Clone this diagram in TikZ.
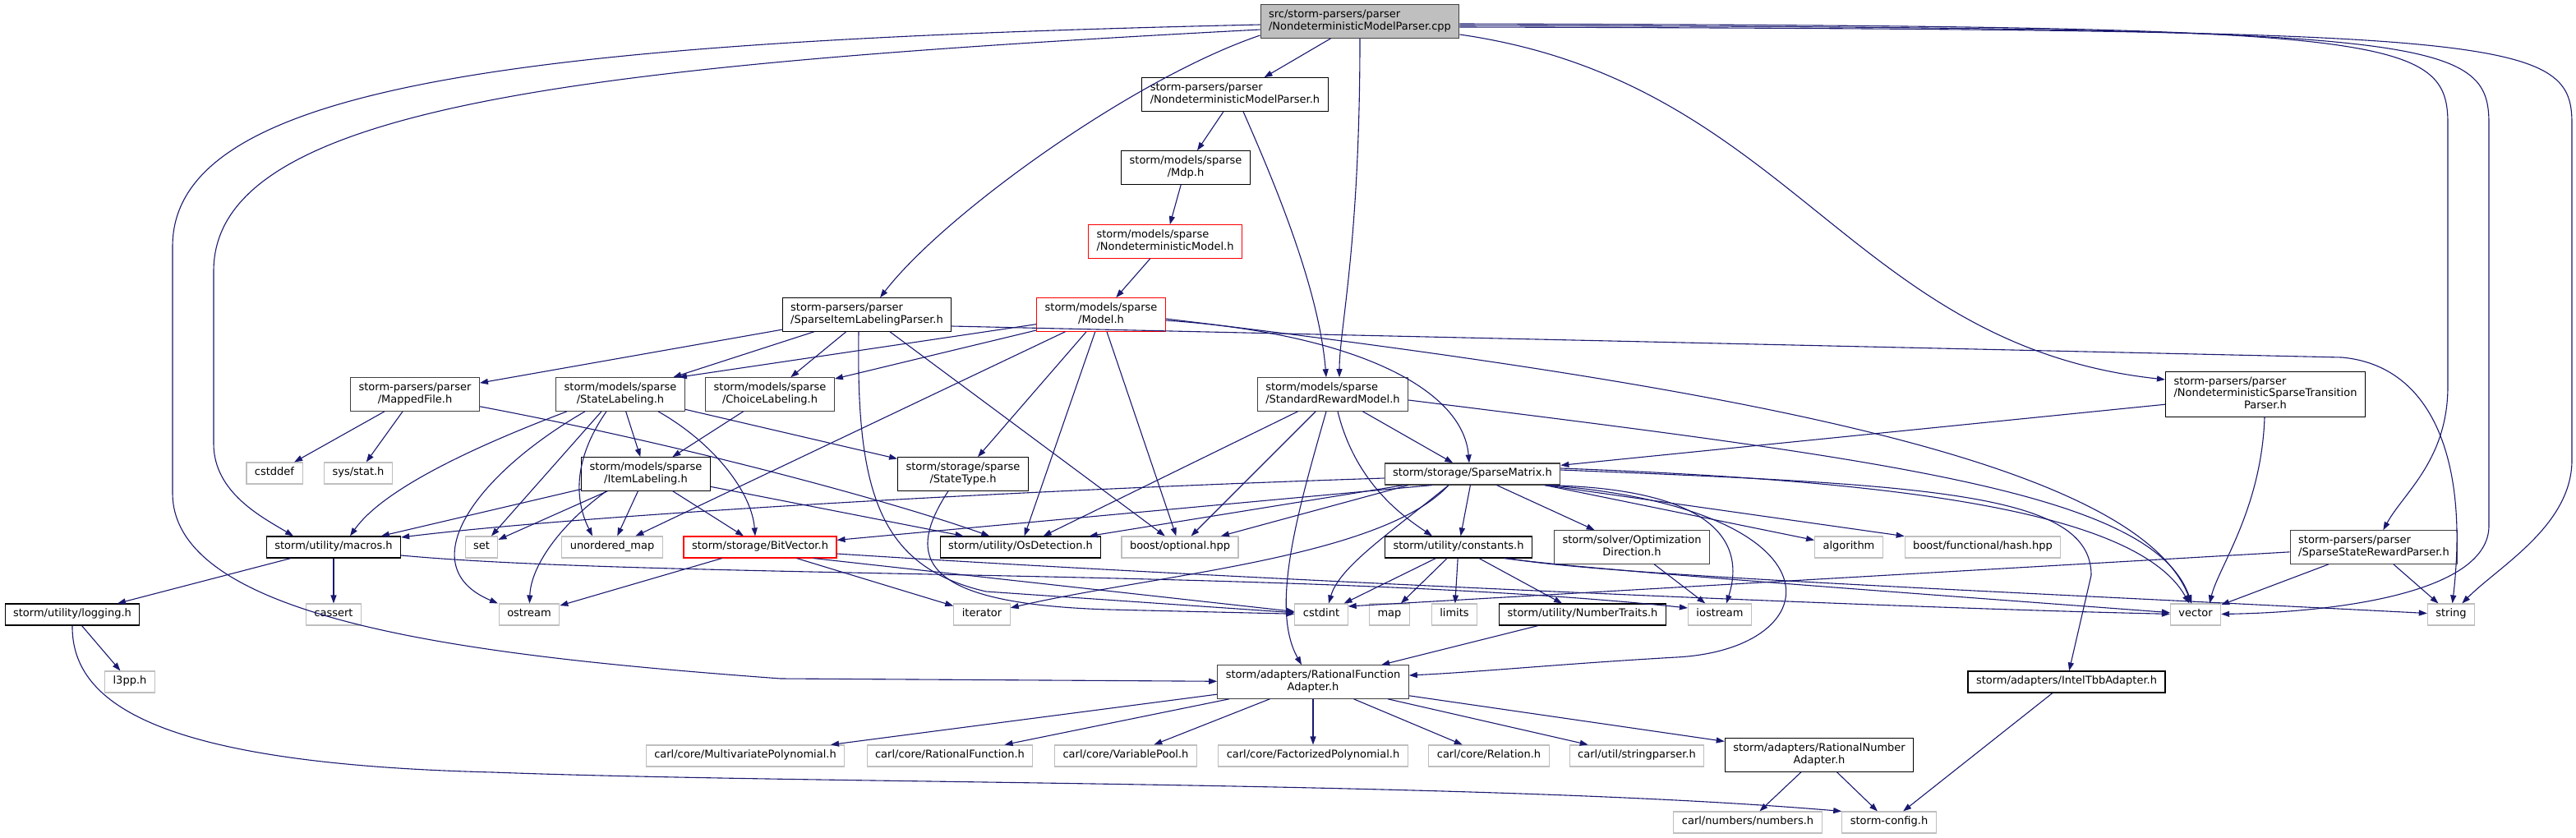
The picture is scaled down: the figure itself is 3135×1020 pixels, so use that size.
\documentclass[tikz,border=0pt]{standalone}
\usepackage{fontspec}
\setmainfont{DejaVu Sans}
\usepackage{tikz}
\usetikzlibrary{arrows.meta}
\usepackage{xcolor}
\definecolor{edgeblue}{HTML}{191970}
\definecolor{rootgray}{HTML}{BFBFBF}
\definecolor{extgray}{HTML}{BFBFBF}
\definecolor{boxgray}{HTML}{404040}
\definecolor{truncred}{HTML}{FF0000}
\newcommand{\boxtext}[1]{\begin{tabular}{@{}l@{}}#1\end{tabular}}
\newcommand{\lastline}[1]{\multicolumn{1}{@{}c@{}}{#1}}

\begin{document}
\begin{tikzpicture}[x=1pt, y=-1pt,
  every node/.style={rectangle, draw, fill=white, line width=1.1pt, inner xsep=10pt, inner ysep=5.75pt, font=\fontsize{13}{14.5}\selectfont},
  hdr/.style={draw=black},
  hdrg/.style={draw=boxgray},
  trunc/.style={draw=truncred},
  srcfile/.style={draw=boxgray, fill=rootgray},
  sysinc/.style={draw=extgray},
  dep/.style={draw=edgeblue, line width=1.1pt, -{Triangle[length=10pt,width=7pt]}}
]
\useasboundingbox (0,0) rectangle (3135,1020);

% row 0
\node[srcfile] (root) at (1655,26) {\boxtext{src/storm-parsers/parser\\\lastline{/NondeterministicModelParser.cpp}}};

% row 1
\node[hdr] (nmph) at (1503,115) {\boxtext{storm-parsers/parser\\\lastline{/NondeterministicModelParser.h}}};

% row 2
\node[hdr] (mdp) at (1443,204) {\boxtext{storm/models/sparse\\\lastline{/Mdp.h}}};

% row 3
\node[trunc] (ndm) at (1418,294) {\boxtext{storm/models/sparse\\\lastline{/NondeterministicModel.h}}};

% row 4
\node[hdr] (silp) at (1055,383) {\boxtext{storm-parsers/parser\\\lastline{/SparseItemLabelingParser.h}}};
\node[trunc] (model) at (1340,383) {\boxtext{storm/models/sparse\\\lastline{/Model.h}}};

% row 5
\node[hdrg] (mapped) at (505,480) {\boxtext{storm-parsers/parser\\\lastline{/MappedFile.h}}};
\node[hdrg] (statelab) at (755,480) {\boxtext{storm/models/sparse\\\lastline{/StateLabeling.h}}};
\node[hdrg] (choicelab) at (937,480) {\boxtext{storm/models/sparse\\\lastline{/ChoiceLabeling.h}}};
\node[hdrg] (srm) at (1622,480) {\boxtext{storm/models/sparse\\\lastline{/StandardRewardModel.h}}};
\node[hdr] (nstp) at (2757,480) {\boxtext{storm-parsers/parser\\/NondeterministicSparseTransition\\\lastline{Parser.h}}};

% row 6
\node[sysinc] (cstddef) at (334,576) {\boxtext{cstddef}};
\node[sysinc] (sysstat) at (436,576) {\boxtext{sys/stat.h}};
\node[hdr] (itemlab) at (786,577) {\boxtext{storm/models/sparse\\\lastline{/ItemLabeling.h}}};
\node[hdr] (statetype) at (1172,577) {\boxtext{storm/storage/sparse\\\lastline{/StateType.h}}};
\node[hdrg] (spmat) at (1792,577) {\boxtext{storm/storage/SparseMatrix.h}};

% row 7
\node[hdr] (macros) at (406,666) {\boxtext{storm/utility/macros.h}};
\node[sysinc] (set) at (586,666) {\boxtext{set}};
\node[sysinc] (unorderedmap) at (745,666) {\boxtext{unordered\_map}};
\node[trunc] (bitvec) at (925,666) {\boxtext{storm/storage/BitVector.h}};
\node[hdr] (osdet) at (1242,666) {\boxtext{storm/utility/OsDetection.h}};
\node[sysinc] (boostopt) at (1436,666) {\boxtext{boost/optional.hpp}};
\node[hdr] (constants) at (1775,666) {\boxtext{storm/utility/constants.h}};
\node[hdrg] (optdir) at (1986,666) {\boxtext{storm/solver/Optimization\\\lastline{Direction.h}}};
\node[sysinc] (algorithm) at (2250,666) {\boxtext{algorithm}};
\node[sysinc] (hash) at (2413,666) {\boxtext{boost/functional/hash.hpp}};
\node[hdrg] (ssrp) at (2889,666) {\boxtext{storm-parsers/parser\\\lastline{/SparseStateRewardParser.h}}};

% row 8
\node[hdr] (logging) at (88,748) {\boxtext{storm/utility/logging.h}};
\node[sysinc] (cassert) at (406,748) {\boxtext{cassert}};
\node[sysinc] (ostream) at (644,748) {\boxtext{ostream}};
\node[sysinc] (iterator) at (1195,748) {\boxtext{iterator}};
\node[sysinc] (cstdint) at (1608,748) {\boxtext{cstdint}};
\node[sysinc] (map) at (1691,748) {\boxtext{map}};
\node[sysinc] (limits) at (1770,748) {\boxtext{limits}};
\node[hdr] (numtraits) at (1926,748) {\boxtext{storm/utility/NumberTraits.h}};
\node[sysinc] (iostream) at (2093,748) {\boxtext{iostream}};
\node[sysinc] (vector) at (2672,748) {\boxtext{vector}};
\node[sysinc] (string) at (2983,748) {\boxtext{string}};

% row 9
\node[sysinc] (l3pp) at (158,830) {\boxtext{l3pp.h}};
\node[hdrg] (rfa) at (1598,830) {\boxtext{storm/adapters/RationalFunction\\\lastline{Adapter.h}}};
\node[hdr] (inteltbb) at (2515,830) {\boxtext{storm/adapters/IntelTbbAdapter.h}};

% row 10
\node[sysinc] (multipoly) at (907,920) {\boxtext{carl/core/MultivariatePolynomial.h}};
\node[sysinc] (ratfunc) at (1156,920) {\boxtext{carl/core/RationalFunction.h}};
\node[sysinc] (varpool) at (1370,920) {\boxtext{carl/core/VariablePool.h}};
\node[sysinc] (factpoly) at (1598,920) {\boxtext{carl/core/FactorizedPolynomial.h}};
\node[sysinc] (relation) at (1812,920) {\boxtext{carl/core/Relation.h}};
\node[sysinc] (strparser) at (1992,920) {\boxtext{carl/util/stringparser.h}};
\node[hdr] (ratnum) at (2214,919) {\boxtext{storm/adapters/RationalNumber\\\lastline{Adapter.h}}};

% row 11
\node[sysinc] (numbers) at (2127,1001) {\boxtext{carl/numbers/numbers.h}};
\node[sysinc] (stormconfig) at (2299,1001) {\boxtext{storm-config.h}};

% from root
\draw[dep] (root) -- (nmph);
\draw[dep] ([yshift=-17pt]root.west) .. controls (1380,95) and (1150,260) .. (silp);
\draw[dep] (root.south) .. controls (1655,300) and (1630,400) .. ([xshift=8pt]srm.north);
\draw[dep] ([yshift=-16pt]root.east) .. controls (2180,100) and (2250,420) .. ([yshift=18pt]nstp.west);
\draw[dep] ([yshift=-3pt]root.east) .. controls (2900,32) and (2979,40) .. (2979,150) -- (2979,470) .. controls (2979,560) and (2925,600) .. (ssrp);
\draw[dep] ([yshift=-5pt]root.east) .. controls (2950,34) and (3029,42) .. (3029,150) -- (3029,640) .. controls (3029,720) and (2850,745) .. (vector);
\draw[dep] ([yshift=-7pt]root.east) .. controls (3050,36) and (3130,44) .. (3130,150) -- (3130,560) .. controls (3130,640) and (3040,690) .. (string);
\draw[dep] ([yshift=-10pt]root.west) .. controls (700,80) and (260,130) .. (260,330) -- (260,540) .. controls (260,600) and (320,630) .. ([xshift=-49pt]macros.north);
\draw[dep] ([yshift=-4pt]root.west) .. controls (650,50) and (210,100) .. (210,300) -- (210,600) .. controls (210,760) and (600,800) .. (950,826) -- (rfa);

% from the parser headers
\draw[dep] (nmph) -- (mdp);
\draw[dep] ([xshift=10pt]nmph.south) .. controls (1550,220) and (1605,350) .. ([xshift=-8pt]srm.north);
\draw[dep] (mdp) -- (ndm);
\draw[dep] (ndm) -- (model);
\draw[dep] (silp) -- (mapped);
\draw[dep] (silp) -- (statelab);
\draw[dep] (silp) -- (choicelab);
\draw[dep] ([xshift=-10pt]silp.south) .. controls (1042,600) and (1070,690) .. (1200,720) -- (cstdint);
\draw[dep] (silp) -- (boostopt);
\draw[dep] ([yshift=-14pt]silp.east) -- (2850,435) .. controls (2960,445) and (3005,560) .. (string);
\draw[dep] (nstp) -- (spmat);
\draw[dep] (nstp) .. controls (2752,620) and (2700,690) .. ([xshift=17pt]vector.north);
\draw[dep] (ssrp) -- ([yshift=10pt]cstdint.east);
\draw[dep] (ssrp) -- (vector);
\draw[dep] (ssrp) -- (string);

% from Model.h
\draw[dep] (model) -- ([xshift=-8pt]statelab.north east);
\draw[dep] (model) -- (choicelab);
\draw[dep] (model) -- (unorderedmap);
\draw[dep] (model) -- (statetype);
\draw[dep] (model) -- (osdet);
\draw[dep] (model) -- (boostopt);
\draw[dep] ([yshift=-7pt]model.east) .. controls (1640,405) and (1780,470) .. ([xshift=-4pt]spmat.north);
\draw[dep] ([yshift=-5pt]model.east) .. controls (2100,470) and (2600,560) .. (vector);

% from StandardRewardModel.h
\draw[dep] (srm) -- (osdet);
\draw[dep] (srm) -- (boostopt);
\draw[dep] ([xshift=-8pt]srm.south) .. controls (1580,620) and (1545,740) .. ([xshift=-14pt]rfa.north);
\draw[dep] ([xshift=6pt]srm.south) .. controls (1650,590) and (1710,630) .. ([xshift=-32pt]constants.north);
\draw[dep] (srm) -- (spmat);
\draw[dep] ([yshift=-7pt]srm.east) .. controls (2300,560) and (2620,600) .. (vector);

% from the labelings
\draw[dep] (mapped) -- (cstddef);
\draw[dep] (mapped) -- (sysstat);
\draw[dep] (mapped) .. controls (850,545) and (1100,615) .. (osdet);
\draw[dep] ([xshift=-65pt]statelab.south) .. controls (600,535) and (470,590) .. ([xshift=20pt]macros.north);
\draw[dep] ([xshift=-43pt]statelab.south) .. controls (575,580) and (500,690) .. ([xshift=-38pt]ostream.north);
\draw[dep] ([xshift=-23pt]statelab.south) -- (set);
\draw[dep] ([xshift=-17pt]statelab.south) .. controls (690,570) and (705,620) .. ([xshift=-24pt]unorderedmap.north);
\draw[dep] (statelab) -- (itemlab);
\draw[dep] ([xshift=46pt]statelab.south) .. controls (870,540) and (915,600) .. ([xshift=-6pt]bitvec.north);
\draw[dep] (statelab) -- (statetype);
\draw[dep] (choicelab) -- (itemlab);
\draw[dep] (itemlab) -- (macros);
\draw[dep] (itemlab) -- (set);
\draw[dep] ([xshift=-48pt]itemlab.south) .. controls (680,640) and (646,690) .. (ostream);
\draw[dep] (itemlab) -- (unorderedmap);
\draw[dep] (itemlab) -- ([xshift=-20pt]bitvec.north);
\draw[dep] (itemlab) -- (osdet);
\draw[dep] ([xshift=-18pt]statetype.south) .. controls (1100,680) and (1120,735) .. (1350,742) -- (cstdint);

% from BitVector.h, macros.h, logging.h
\draw[dep] (bitvec) -- (ostream);
\draw[dep] (bitvec) -- (iterator);
\draw[dep] ([xshift=65pt]bitvec.south) -- (cstdint);
\draw[dep] ([yshift=-8pt]bitvec.east) .. controls (1500,705) and (2300,740) .. (vector);
\draw[dep] (macros) -- ([xshift=55pt]logging.north);
\draw[dep] (macros) -- (cassert);
\draw[dep] ([yshift=-10pt]macros.east) .. controls (800,705) and (1600,692) .. ([yshift=8pt]iostream.west);
\draw[dep] (logging) -- (l3pp);
\draw[dep] (logging.south) .. controls (87,860) and (200,930) .. (600,940) .. controls (1000,955) and (1800,950) .. (stormconfig.north west);

% from SparseMatrix.h
\draw[dep] ([yshift=-5pt]spmat.west) .. controls (1200,598) and (700,628) .. ([yshift=12pt]macros.east);
\draw[dep] (spmat) -- (osdet);
\draw[dep] ([xshift=-78pt]spmat.south) -- (boostopt);
\draw[dep] ([xshift=-49pt]spmat.south) -- (bitvec);
\draw[dep] ([xshift=-29pt]spmat.south) .. controls (1680,680) and (1400,700) .. (iterator);
\draw[dep] ([xshift=-29pt]spmat.south) .. controls (1690,650) and (1630,690) .. ([xshift=9pt]cstdint.north);
\draw[dep] (spmat) -- (constants);
\draw[dep] (spmat) -- (optdir);
\draw[dep] ([xshift=88pt]spmat.south) -- (algorithm);
\draw[dep] ([xshift=88pt]spmat.south) -- (hash);
\draw[dep] ([xshift=88pt]spmat.south) .. controls (2130,595) and (2115,690) .. ([xshift=8pt]iostream.north);
\draw[dep] ([xshift=92pt]spmat.south) .. controls (2250,620) and (2230,790) .. (2040,800) .. controls (1900,808) and (1800,818) .. ([yshift=8pt]rfa.east);
\draw[dep] ([yshift=5pt]spmat.east) .. controls (2350,590) and (2545,600) .. (2545,700) -- (inteltbb);
\draw[dep] ([yshift=7pt]spmat.east) .. controls (2300,585) and (2600,620) .. (vector);

% from constants.h and the adapters
\draw[dep] (constants) -- (cstdint);
\draw[dep] (constants) -- (map);
\draw[dep] (constants) -- (limits);
\draw[dep] (constants) -- (numtraits);
\draw[dep] ([xshift=-35pt]constants.south east) .. controls (1950,695) and (2300,720) .. (vector);
\draw[dep] ([xshift=-30pt]constants.south east) .. controls (1950,700) and (2400,718) .. (string);
\draw[dep] (optdir) -- (iostream);
\draw[dep] (numtraits) -- (rfa);
\draw[dep] (rfa) -- (multipoly);
\draw[dep] (rfa) -- (ratfunc);
\draw[dep] (rfa) -- (varpool);
\draw[dep] (rfa) -- (factpoly);
\draw[dep] (rfa) -- (relation);
\draw[dep] (rfa) -- (strparser);
\draw[dep] (rfa) -- (ratnum);
\draw[dep] (ratnum) -- (numbers);
\draw[dep] (ratnum) -- (stormconfig);
\draw[dep] (inteltbb) -- (stormconfig);

\end{tikzpicture}
\end{document}
